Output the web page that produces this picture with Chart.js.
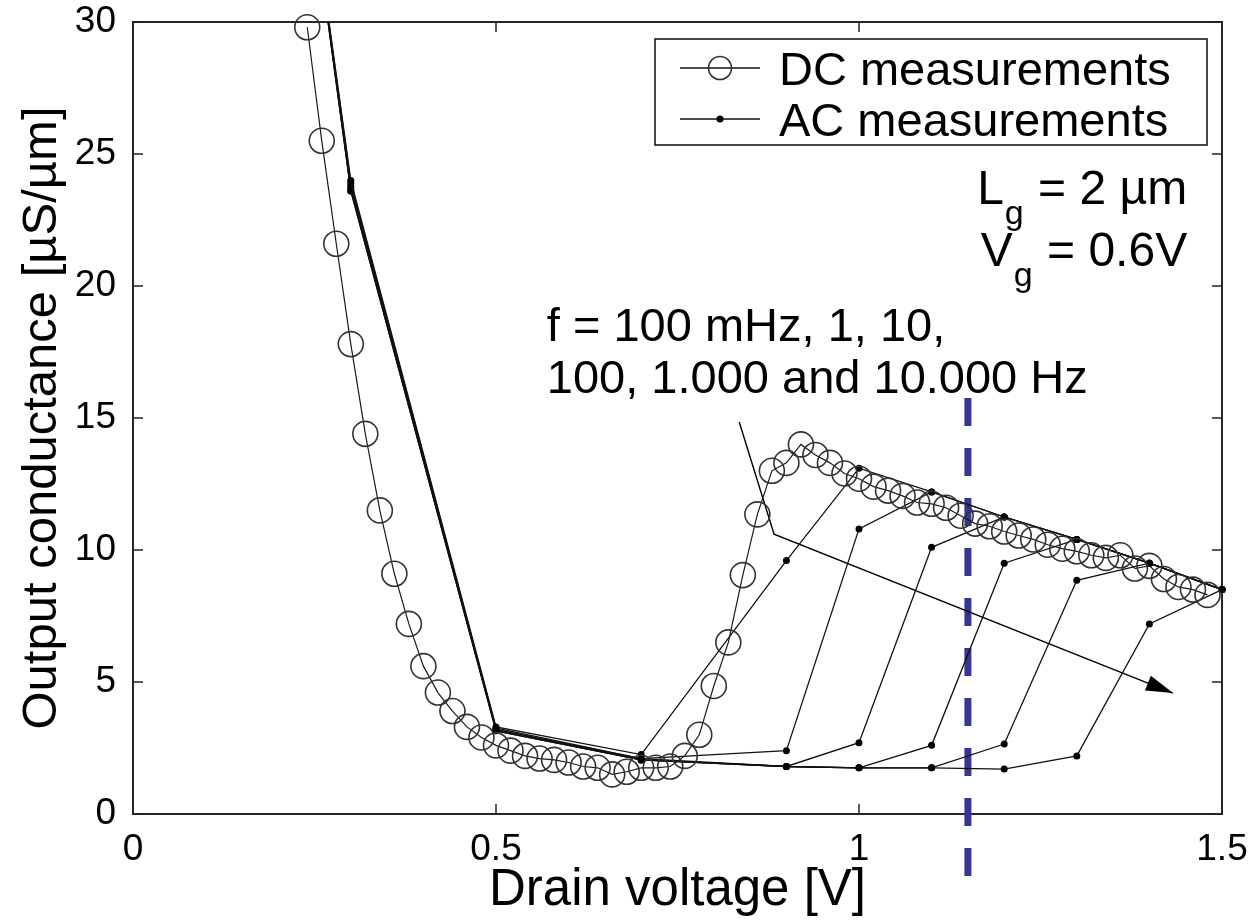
<!DOCTYPE html>
<html>
<head>
<meta charset="utf-8">
<title>Output conductance vs drain voltage</title>
<script src="https://cdn.jsdelivr.net/npm/chart.js@4.4.1/dist/chart.umd.min.js"></script>
<style>
  html, body { margin: 0; padding: 0; background: #fff; }
  #conductanceChart { display: block; }
</style>
</head>
<body>
<canvas id="conductanceChart" width="1254" height="922"></canvas>
<script>
// --- DC sweep (V, µS/µm) ---
const dcVoltage = [0.24, 0.26, 0.28, 0.30, 0.32, 0.34, 0.36, 0.38, 0.40, 0.42, 0.44, 0.46, 0.48,
    0.50, 0.52, 0.54, 0.56, 0.58, 0.60, 0.62, 0.64, 0.66, 0.68, 0.70, 0.72, 0.74, 0.76, 0.78,
    0.80, 0.82, 0.84, 0.86, 0.88, 0.90, 0.92, 0.94, 0.96, 0.98, 1.00, 1.02, 1.04, 1.06, 1.08,
    1.10, 1.12, 1.14, 1.16, 1.18, 1.20, 1.22, 1.24, 1.26, 1.28, 1.30, 1.32, 1.34, 1.36, 1.38,
    1.40, 1.42, 1.44, 1.46, 1.48];
const dcConductance = [29.8, 25.5, 21.6, 17.8, 14.4, 11.5, 9.1, 7.2, 5.6, 4.6, 3.9, 3.3, 2.9,
    2.6, 2.4, 2.2, 2.1, 2.05, 1.95, 1.8, 1.75, 1.5, 1.6, 1.75, 1.75, 1.8, 2.2, 3.0,
    4.85, 6.5, 9.05, 11.35, 13.0, 13.3, 14.0, 13.6, 13.3, 12.9, 12.7, 12.4, 12.25, 12.05, 11.8,
    11.75, 11.6, 11.3, 11.0, 10.9, 10.7, 10.55, 10.4, 10.2, 10.05, 9.95, 9.8, 9.7, 9.8, 9.3,
    9.4, 8.9, 8.6, 8.5, 8.3];

// --- AC measurements, one curve per frequency ---
const acVoltage = [0.2, 0.3, 0.5, 0.7, 0.9, 1.0, 1.1, 1.2, 1.3, 1.4, 1.5];
const ac100mHz = [44, 24.0, 3.3, 2.25, 9.6, 13.1, 12.2, 11.25, 10.4, 9.5, 8.5];
const ac1Hz    = [44, 23.9, 3.25, 2.1, 2.4, 10.8, 12.2, 11.25, 10.4, 9.5, 8.5];
const ac10Hz   = [44, 23.8, 3.2, 2.1, 1.8, 2.7, 10.1, 11.25, 10.4, 9.5, 8.5];
const ac100Hz  = [44, 23.7, 3.2, 2.05, 1.8, 1.75, 2.6, 9.5, 10.4, 9.5, 8.5];
const ac1kHz   = [44, 23.6, 3.15, 2.05, 1.8, 1.75, 1.75, 2.65, 8.85, 9.5, 8.5];
const ac10kHz  = [44, 23.6, 3.15, 2.05, 1.8, 1.75, 1.75, 1.7, 2.2, 7.2, 8.5];
const acSeries = [ac100mHz, ac1Hz, ac10Hz, ac100Hz, ac1kHz, ac10kHz];

// frequency arrow (V, µS/µm) and the dashed marker at 1.15 V
const arrowVoltage = [0.835, 0.883, 1.4325];
const arrowConductance = [14.85, 10.6, 4.58];
const markerVoltage = [1.15, 1.15];
const markerConductance = [15.76, -2.5];

const xTicks = [0, 0.5, 1, 1.5];
const yTicks = [0, 5, 10, 15, 20, 25, 30];

const FONT = '"Liberation Sans", Arial, Helvetica, sans-serif';
Chart.defaults.font.family = FONT;
Chart.defaults.color = '#000';

const pts = (xs, ys) => xs.map((v, i) => ({ x: v, y: ys[i] }));

// box, inward ticks, legend and text labels
const framePlugin = {
    id: 'frame',
    beforeDatasetsDraw(chart) {
        const { ctx, chartArea: a, scales: { x, y } } = chart;
        ctx.save();
        ctx.strokeStyle = '#262626';
        ctx.lineWidth = 2;
        ctx.strokeRect(a.left, a.top, a.right - a.left, a.bottom - a.top);
        ctx.lineWidth = 1.5;
        ctx.beginPath();
        xTicks.forEach(v => {
            const px = x.getPixelForValue(v);
            ctx.moveTo(px, a.bottom); ctx.lineTo(px, a.bottom - 10);
            ctx.moveTo(px, a.top); ctx.lineTo(px, a.top + 10);
        });
        yTicks.forEach(v => {
            const py = y.getPixelForValue(v);
            ctx.moveTo(a.left, py); ctx.lineTo(a.left + 10, py);
            ctx.moveTo(a.right, py); ctx.lineTo(a.right - 10, py);
        });
        ctx.stroke();
        ctx.restore();
    },
    afterDatasetsDraw(chart) {
        const { ctx, chartArea: a, scales: { x, y } } = chart;
        ctx.save();

        // arrow head at the end of the frequency arrow
        const n = arrowVoltage.length;
        const tx = x.getPixelForValue(arrowVoltage[n - 1]), ty = y.getPixelForValue(arrowConductance[n - 1]);
        const fx = x.getPixelForValue(arrowVoltage[n - 2]), fy = y.getPixelForValue(arrowConductance[n - 2]);
        const ang = Math.atan2(ty - fy, tx - fx);
        ctx.translate(tx, ty);
        ctx.rotate(ang);
        ctx.fillStyle = '#000';
        ctx.beginPath();
        ctx.moveTo(0, 0);
        ctx.lineTo(-27, -8);
        ctx.lineTo(-27, 8);
        ctx.closePath();
        ctx.fill();
        ctx.setTransform(1, 0, 0, 1, 0, 0);

        // frequency note
        ctx.fillStyle = '#000';
        ctx.font = '47px ' + FONT;
        ctx.textAlign = 'left';
        ctx.textBaseline = 'alphabetic';
        ctx.fillText('f = 100 mHz, 1, 10,', x.getPixelForValue(0.57), y.getPixelForValue(17.92));
        ctx.fillText('100, 1.000 and 10.000 Hz', x.getPixelForValue(0.57), y.getPixelForValue(15.95));

        // device parameters with subscripts
        const sub = (main, rest, right, base) => {
            ctx.font = '48px ' + FONT;
            const wMain = ctx.measureText(main).width;
            const wRest = ctx.measureText(rest).width;
            ctx.font = '34px ' + FONT;
            const wSub = ctx.measureText('g').width;
            const left = right - wMain - wSub - wRest - 2;
            ctx.font = '48px ' + FONT;
            ctx.fillText(main, left, base);
            ctx.font = '34px ' + FONT;
            ctx.fillText('g', left + wMain + 1, base + 20);
            ctx.font = '48px ' + FONT;
            ctx.fillText(rest, left + wMain + wSub + 2, base);
        };
        const rx = x.getPixelForValue(1.452);
        sub('L', ' = 2 µm', rx, y.getPixelForValue(23.1));
        sub('V', ' = 0.6V', rx, y.getPixelForValue(20.75));

        // legend
        const bw = 552, bh = 106;
        const bl = a.right - 15 - bw, bt = a.top + 17;
        ctx.fillStyle = '#fff';
        ctx.fillRect(bl, bt, bw, bh);
        ctx.strokeStyle = '#1a1a1a';
        ctx.lineWidth = 1.6;
        ctx.strokeRect(bl, bt, bw, bh);
        const rows = [
            { text: 'DC measurements', y: bt + 29, dc: true },
            { text: 'AC measurements', y: bt + 80, dc: false }
        ];
        rows.forEach(r => {
            ctx.strokeStyle = '#111';
            ctx.lineWidth = 1.3;
            ctx.beginPath();
            ctx.moveTo(bl + 25, r.y); ctx.lineTo(bl + 105, r.y);
            ctx.stroke();
            ctx.beginPath();
            if (r.dc) {
                ctx.strokeStyle = '#333';
                ctx.lineWidth = 1.6;
                ctx.arc(bl + 65, r.y, 11.5, 0, Math.PI * 2);
                ctx.stroke();
            } else {
                ctx.fillStyle = '#000';
                ctx.arc(bl + 65, r.y, 3.5, 0, Math.PI * 2);
                ctx.fill();
            }
            ctx.fillStyle = '#000';
            ctx.font = '47px ' + FONT;
            ctx.fillText(r.text, bl + 124, r.y + 17);
        });
        ctx.restore();
    }
};

const acDatasets = acSeries.map(vals => ({
    data: pts(acVoltage, vals),
    borderColor: '#111',
    borderWidth: 1.3,
    pointRadius: 3.5,
    pointBorderWidth: 0,
    pointBackgroundColor: '#000',
    clip: { left: 6, right: 8, top: 0, bottom: 6 }
}));

new Chart(document.getElementById('conductanceChart'), {
    type: 'line',
    data: {
        datasets: [
            {
                label: 'DC measurements',
                data: pts(dcVoltage, dcConductance),
                borderColor: '#1a1a1a',
                borderWidth: 1.2,
                pointRadius: 12.5,
                pointBorderWidth: 1.6,
                pointBorderColor: '#333',
                pointBackgroundColor: 'rgba(0,0,0,0)',
                clip: false
            },
            ...acDatasets,
            {
                data: pts(arrowVoltage, arrowConductance),
                borderColor: '#000',
                borderWidth: 1.4,
                pointRadius: 0,
                clip: false
            },
            {
                data: pts(markerVoltage, markerConductance),
                borderColor: '#36369a',
                borderWidth: 7,
                borderDash: [28, 22],
                borderCapStyle: 'butt',
                pointRadius: 0,
                clip: false
            }
        ]
    },
    options: {
        responsive: false,
        animation: false,
        events: [],
        layout: { padding: { top: 22, right: 32, left: 0, bottom: 0 } },
        plugins: { legend: { display: false }, tooltip: { enabled: false } },
        scales: {
            x: {
                type: 'linear',
                min: 0, max: 1.5,
                grid: { display: false },
                border: { display: false },
                afterBuildTicks: s => { s.ticks = xTicks.map(v => ({ value: v })); },
                afterFit: s => { s.height = 108; s.paddingLeft = 0; s.paddingRight = 0; },
                ticks: { font: { size: 37 }, color: '#000', padding: 6, maxRotation: 0, callback: v => String(v) },
                title: { display: true, text: 'Drain voltage [V]', font: { size: 51 }, color: '#000', padding: { top: 0, bottom: 0 } }
            },
            y: {
                min: 0, max: 30,
                grid: { display: false },
                border: { display: false },
                afterBuildTicks: s => { s.ticks = yTicks.map(v => ({ value: v })); },
                afterFit: s => { s.width = 133; s.paddingTop = 0; s.paddingBottom = 0; },
                ticks: { font: { size: 37 }, color: '#000', padding: 9, callback: v => String(v) },
                title: { display: true, text: 'Output conductance [µS/µm]', font: { size: 49 }, color: '#000', padding: { top: 13, bottom: 0 } }
            }
        }
    },
    plugins: [framePlugin]
});
</script>
</body>
</html>
